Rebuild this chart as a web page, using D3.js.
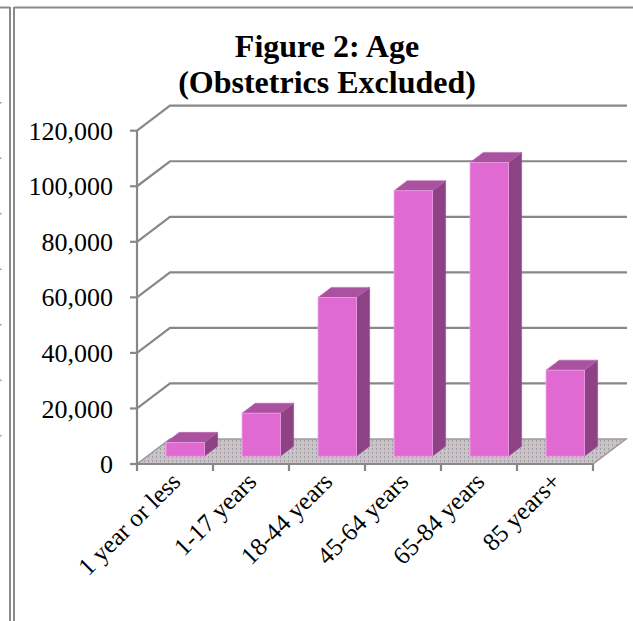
<!DOCTYPE html>
<html>
<head>
<meta charset="utf-8">
<script src="https://cdn.jsdelivr.net/npm/d3@7/dist/d3.min.js"></script>
<style>
  html, body { margin: 0; padding: 0; background: #fff; }
  svg { display: block; }
  text { font-family: "Liberation Serif", "Times New Roman", serif; fill: #000; }
</style>
</head>
<body>
<svg id="chart" width="633" height="621"></svg>
<script>
// Age groups and patient counts (obstetrics excluded)
const categories = ["1 year or less", "1-17 years", "18-44 years", "45-64 years", "65-84 years", "85 years+"];
const patients = [5000, 15500, 57200, 95600, 105800, 31000];
const yTicks = [0, 20000, 40000, 60000, 80000, 100000, 120000];
const titleLines = ["Figure 2: Age", "(Obstetrics Excluded)"];

const svg = d3.select("#chart");

// frame: double rule on the left, single rule on top
const frame = svg.append("g").attr("stroke", "#8a8a8a").attr("stroke-width", 2).attr("fill", "none");
frame.append("line").attr("x1", 10).attr("x2", 10).attr("y1", 7).attr("y2", 621);
frame.append("line").attr("x1", 14).attr("x2", 14).attr("y1", 7).attr("y2", 621);
frame.append("line").attr("x1", 0).attr("x2", 10).attr("y1", 7.5).attr("y2", 7.5);
frame.append("line").attr("x1", 14).attr("x2", 633).attr("y1", 7.5).attr("y2", 7.5);
// small marks along the far left edge
svg.append("g").selectAll("rect").data(d3.range(7)).join("rect")
  .attr("x", 0).attr("y", i => 102 + i * 55.5).attr("width", 1.5).attr("height", 1.5)
  .attr("fill", "#999");

// plot geometry: front plane plus an oblique depth offset
const x0 = 137, x1 = 593;
const depthX = 33, depthY = -25;
const x = d3.scaleBand().domain(categories).range([x0, x1]).padding(0);
const y = d3.scaleLinear().domain([0, 120000]).range([464, 130.7]);
const barFrac = 0.505;          // bar width as share of band
const zFront = 0.31, zBack = 0.71; // bar depth span as share of full depth

// floor pattern
const defs = svg.append("defs");
const pat = defs.append("pattern").attr("id", "floorPat").attr("patternUnits", "userSpaceOnUse")
  .attr("width", 4).attr("height", 4);
pat.append("rect").attr("width", 4).attr("height", 4).attr("fill", "#c4c4c4");
pat.append("rect").attr("x", 0).attr("y", 0).attr("width", 1).attr("height", 2).attr("fill", "#a89aa6");
pat.append("rect").attr("x", 2).attr("y", 2).attr("width", 1).attr("height", 1).attr("fill", "#d8cfd6");

// back-wall and side-wall gridlines
const grid = svg.append("g").attr("stroke", "#888").attr("stroke-width", 2.2).attr("fill", "none");
yTicks.filter(v => v > 0).forEach(v => {
  const yy = y(v);
  grid.append("path").attr("d",
    `M${x0},${yy} L${x0 + depthX},${yy + depthY} L${x1 + depthX + 1},${yy + depthY}`);
});

// floor
const y0 = y(0);
svg.append("path")
  .attr("d", `M${x0},${y0} L${x1},${y0} L${x1 + depthX},${y0 + depthY} L${x0 + depthX},${y0 + depthY} Z`)
  .attr("fill", "url(#floorPat)")
  .attr("stroke", "#9a9a9a").attr("stroke-width", 1.5);

// y axis with ticks
const axisG = svg.append("g").attr("stroke", "#888").attr("stroke-width", 2.2);
axisG.append("line").attr("x1", x0).attr("x2", x0).attr("y1", y(120000)).attr("y2", y0 + 1);
yTicks.forEach(v => {
  axisG.append("line").attr("x1", x0 - 7).attr("x2", x0).attr("y1", y(v)).attr("y2", y(v));
});
// x axis with ticks
axisG.append("line").attr("x1", x0).attr("x2", x1).attr("y1", y0).attr("y2", y0);
const bounds = categories.map(c => x(c)).concat([x1]);
bounds.forEach(bx => {
  axisG.append("line").attr("x1", bx).attr("x2", bx).attr("y1", y0).attr("y2", y0 + 7);
});

// y tick labels
svg.append("g").selectAll("text").data(yTicks).join("text")
  .attr("x", 113).attr("y", d => y(d)).attr("dy", "0.35em")
  .attr("text-anchor", "end").attr("font-size", 26)
  .text(d3.format(","));

// 3D columns
const bw = x.bandwidth() * barFrac;
const fdx = zFront * depthX, fdy = zFront * depthY;
const sdx = (zBack - zFront) * depthX, sdy = (zBack - zFront) * depthY;
const bars = svg.append("g").selectAll("g").data(categories).join("g");
bars.each(function (c, i) {
  const g = d3.select(this);
  const left = x(c) + (x.bandwidth() - bw) / 2 + fdx;
  const right = left + bw;
  const top = y(patients[i]) + fdy;
  const bottom = y(0) + fdy;
  // side face
  g.append("path")
    .attr("d", `M${right},${top} L${right + sdx},${top + sdy} L${right + sdx},${bottom + sdy} L${right},${bottom} Z`)
    .attr("fill", "#8e4286").attr("stroke", "#9c4d93").attr("stroke-width", 0.6);
  // top face
  g.append("path")
    .attr("d", `M${left},${top} L${left + sdx},${top + sdy} L${right + sdx},${top + sdy} L${right},${top} Z`)
    .attr("fill", "#aa52a0").attr("stroke", "#b866ae").attr("stroke-width", 0.6);
  // front face
  g.append("rect")
    .attr("x", left).attr("y", top).attr("width", bw).attr("height", bottom - top)
    .attr("fill", "#e06ad2").attr("stroke", "#ee9fe6").attr("stroke-width", 0.8);
});

// category labels, rotated
svg.append("g").selectAll("text").data(categories).join("text")
  .attr("transform", c => `translate(${x(c) + x.bandwidth() / 2 + 7},${y0 + 19}) rotate(-45)`)
  .attr("text-anchor", "end").attr("font-size", 25)
  .text(d => d);

// title
svg.append("g").selectAll("text").data(titleLines).join("text")
  .attr("x", 327).attr("y", (d, i) => 57 + i * 36)
  .attr("text-anchor", "middle").attr("font-size", 32).attr("font-weight", "bold")
  .text(d => d);
</script>
</body>
</html>
